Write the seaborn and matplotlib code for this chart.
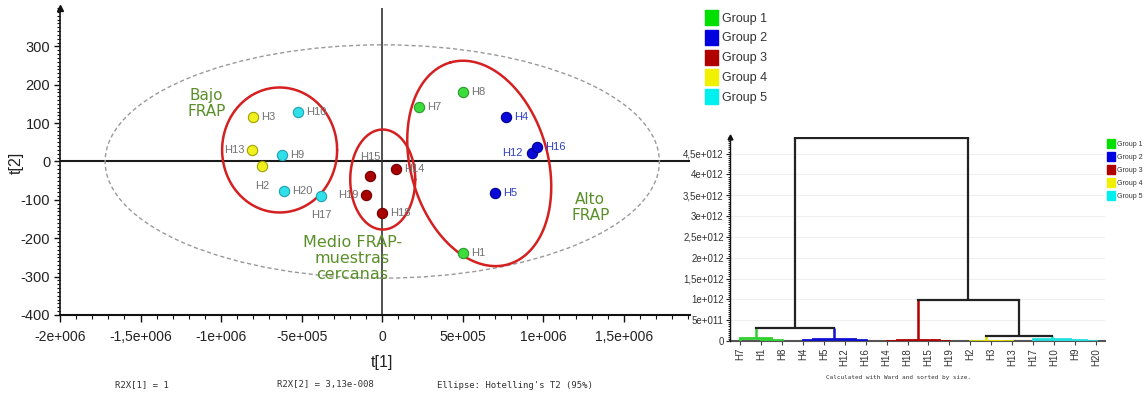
import numpy as np
import pandas as pd
import matplotlib
matplotlib.use("Agg")
import matplotlib.pyplot as plt
import seaborn as sns
from matplotlib.patches import Ellipse, Patch
from matplotlib.ticker import MultipleLocator, FixedLocator

# ---------------- data ----------------
samples = ['H1', 'H2', 'H3', 'H4', 'H5', 'H7', 'H8', 'H9', 'H10', 'H12',
           'H13', 'H14', 'H15', 'H16', 'H17', 'H18', 'H19', 'H20']
t1 = [0.50e6, -0.745e6, -0.80e6, 0.77e6, 0.70e6, 0.23e6, 0.50e6, -0.62e6, -0.52e6, 0.93e6,
      -0.81e6, 0.087e6, -0.075e6, 0.96e6, -0.38e6, 0.0, -0.10e6, -0.61e6]
t2 = [-238, -13, 115, 116, -82, 142, 182, 16, 128, 22,
      29, -19, -39, 38, -89, -134, -88, -76]
group = ['Group 1', 'Group 4', 'Group 4', 'Group 2', 'Group 2', 'Group 1', 'Group 1', 'Group 5', 'Group 5', 'Group 2',
         'Group 4', 'Group 3', 'Group 3', 'Group 2', 'Group 5', 'Group 3', 'Group 3', 'Group 5']
groups = ['Group 1', 'Group 2', 'Group 3', 'Group 4', 'Group 5']

x_ticks = [-2e6, -1.5e6, -1e6, -5e5, 0, 5e5, 1e6, 1.5e6]
x_ticklabels = ['-2e+006', '-1,5e+006', '-1e+006', '-5e+005', '0', '5e+005', '1e+006', '1,5e+006']
y_ticks = [-400, -300, -200, -100, 0, 100, 200, 300]
y_ticklabels = ['-400', '-300', '-200', '-100', '0', '100', '200', '300']

# dendrogram
leaves = ['H7', 'H1', 'H8', 'H4', 'H5', 'H12', 'H16', 'H14', 'H18', 'H15', 'H19',
          'H2', 'H3', 'H13', 'H17', 'H10', 'H9', 'H20']
merge_left = ['H1', 'H7', 'H4', 'H12', 'm2', 'm1', 'H14', 'H15', 'm6', 'H3', 'H2', 'H9', 'H10', 'H17', 'm10', 'm8', 'm5']
merge_right = ['H8', 'm0', 'H5', 'H16', 'm3', 'm4', 'H18', 'H19', 'm7', 'H13', 'm9', 'H20', 'm11', 'm12', 'm13', 'm14', 'm15']
merge_height = [0.2e11, 0.65e11, 0.2e11, 0.15e11, 0.5e11, 3.1e11, 0.08e11, 0.08e11, 0.15e11,
                0.05e11, 0.12e11, 0.05e11, 0.2e11, 0.45e11, 1.2e11, 0.985e12, 4.88e12]
merge_group = ['Group 1', 'Group 1', 'Group 2', 'Group 2', 'Group 2', None, 'Group 3', 'Group 3', 'Group 3',
               'Group 4', 'Group 4', 'Group 5', 'Group 5', 'Group 5', None, None, None]
d_ticks = [0, 5e11, 1e12, 1.5e12, 2e12, 2.5e12, 3e12, 3.5e12, 4e12, 4.5e12]
d_ticklabels = ['0', '5e+011', '1e+012', '1,5e+012', '2e+012', '2,5e+012', '3e+012', '3,5e+012', '4e+012', '4,5e+012']

# ---------------- style ----------------
sns.set_theme(style="white")
plt.rcParams['font.family'] = ['DejaVu Sans']
NARROW = ['Liberation Sans', 'DejaVu Sans']

face = {'Group 1': '#3ddc3d', 'Group 2': '#0a0ad8', 'Group 3': '#a80000', 'Group 4': '#f0f020', 'Group 5': '#30e0e8'}
edge = {'Group 1': '#2a9a2a', 'Group 2': '#000090', 'Group 3': '#700000', 'Group 4': '#a0a000', 'Group 5': '#20a0b0'}
legc = {'Group 1': '#00e000', 'Group 2': '#0000e0', 'Group 3': '#b00000', 'Group 4': '#f0f000', 'Group 5': '#00f0f0'}
linec = {'Group 1': '#30d030', 'Group 2': '#1010d0', 'Group 3': '#b00000', 'Group 4': '#e0e000', 'Group 5': '#20e0e0', None: '#222222'}
GREEN_TXT = '#5a8f29'

W, H = 1144, 396
fig = plt.figure(figsize=(W / 100, H / 100), dpi=100)
fig.patch.set_facecolor('white')

def fx(px):
    return px / W

def fy(py):
    return 1 - py / H

# ---------------- score plot ----------------
ax_l, ax_t, ax_r, ax_b = 60, 8, 690, 315
ax = fig.add_axes([fx(ax_l), fy(ax_b), (ax_r - ax_l) / W, (ax_b - ax_t) / H])
xlim = (-2e6, 1.91e6)
ylim = (-400, 400)
ax.set_xlim(*xlim)
ax.set_ylim(*ylim)
ax.set_facecolor('white')

df = pd.DataFrame({'sample': samples, 't1': t1, 't2': t2, 'group': group})

ax.axhline(0, color='#1a1a1a', lw=1.5, zorder=1)
ax.axvline(0, color='#333333', lw=1.2, zorder=1)

ax.add_patch(Ellipse((0, 0), width=3.44e6, height=608, fill=False, ls=(0, (3, 2)),
                     ec='#9a9a9a', lw=1.0, zorder=1))

sx = (xlim[1] - xlim[0]) / (ax_r - ax_l)
sy = (ylim[1] - ylim[0]) / (ax_b - ax_t)

def red_ellipse(cx, cy, a_px, b_px, ang_deg):
    t = np.linspace(0, 2 * np.pi, 300)
    phi = np.deg2rad(ang_deg)
    dx = a_px * np.cos(phi) * np.cos(t) - b_px * np.sin(phi) * np.sin(t)
    dy = a_px * np.sin(phi) * np.cos(t) + b_px * np.cos(phi) * np.sin(t)
    ax.plot(cx + dx * sx, cy + dy * sy, color='#d42020', lw=1.8, zorder=2)

red_ellipse(-0.637e6, 30, 57.5, 62.5, 0)
red_ellipse(0.003e6, -47, 32.5, 50, 0)
red_ellipse(0.602e6, -5, 105, 68.6, 106)

for g in groups:
    sub = df[df.group == g]
    sns.scatterplot(data=sub, x='t1', y='t2', ax=ax, color=face[g], edgecolor=edge[g],
                    linewidth=0.8, s=55, legend=False, zorder=3)

# label layout: (dx px, dy px, ha)
lab_pos = {'H2': (0, -20, 'center'), 'H17': (0, -19, 'center'), 'H15': (0, 19, 'center'),
           'H13': (-7, 0, 'right'), 'H19': (-8, 0, 'right'), 'H12': (-9, 0, 'right')}
blue_labels = {'H4', 'H5', 'H12', 'H16'}
for s, x, y in zip(samples, t1, t2):
    dx, dy, ha = lab_pos.get(s, (8, 0, 'left'))
    ax.annotate(s, (x, y), xytext=(dx * 0.72, dy * 0.72), textcoords='offset points',
                ha=ha, va='center', fontsize=8, family=NARROW,
                color='#3040c0' if s in blue_labels else '#707070', zorder=4)

ax.text(-1.09e6, 151, 'Bajo\nFRAP', ha='center', va='center', fontsize=11, color=GREEN_TXT, linespacing=1.08)
ax.text(-0.186e6, -253, 'Medio FRAP-\nmuestras\ncercanas', ha='center', va='center', fontsize=11.5,
        color=GREEN_TXT, linespacing=1.1)
ax.text(1.291e6, -120, 'Alto\nFRAP', ha='center', va='center', fontsize=11, color=GREEN_TXT, linespacing=1.08)

for sp in ['top', 'right']:
    ax.spines[sp].set_visible(False)
ax.spines['left'].set_color('#111111')
ax.spines['bottom'].set_color('#111111')
ax.spines['left'].set_linewidth(1.2)
ax.spines['bottom'].set_linewidth(1.5)
ax.plot(0, 1, marker='^', color='#111111', ms=5, transform=ax.transAxes, clip_on=False)

ax.xaxis.set_major_locator(FixedLocator(x_ticks))
ax.set_xticklabels(x_ticklabels)
ax.yaxis.set_major_locator(FixedLocator(y_ticks))
ax.set_yticklabels(y_ticklabels)
ax.xaxis.set_minor_locator(MultipleLocator(1e5))
ax.yaxis.set_minor_locator(MultipleLocator(10))
ax.tick_params(axis='x', which='major', direction='out', length=5, width=1, pad=6,
               bottom=True, colors='#111111', labelsize=10)
ax.tick_params(axis='x', which='minor', direction='out', length=3, width=0.8, bottom=True, colors='#111111')
ax.tick_params(axis='y', which='major', direction='out', length=4, width=1, pad=3,
               left=True, colors='#111111', labelsize=10.5)
ax.tick_params(axis='y', which='minor', direction='out', length=2, width=0.8, left=True, colors='#111111')
for lab in ax.get_xticklabels() + ax.get_yticklabels():
    lab.set_family(NARROW)
    lab.set_color('#222222')
ax.set_xlabel('')
ax.set_ylabel('')

fig.text(fx(382), fy(362), 't[1]', ha='center', va='center', fontsize=11.5, family=NARROW, color='#222222')
fig.text(fx(16), fy(163), 't[2]', ha='center', va='center', fontsize=11.5, family=NARROW,
         rotation=90, color='#222222')

mono = dict(family='DejaVu Sans Mono', fontsize=6.5, color='#333333', va='center', ha='left')
fig.text(fx(115), fy(385), 'R2X[1] = 1', **mono)
fig.text(fx(277), fy(385), 'R2X[2] = 3,13e-008', **mono)
fig.text(fx(437), fy(385), "Ellipse: Hotelling's T2 (95%)", **mono)

# top legend
handles = [Patch(facecolor=legc[g], edgecolor=legc[g], label=g) for g in groups]
leg = fig.legend(handles=handles, loc='upper left', bbox_to_anchor=(fx(705), fy(10)), frameon=False,
                 handlelength=1.04, handleheight=1.5, labelspacing=0.36,
                 handletextpad=0.3, borderpad=0, borderaxespad=0,
                 prop=dict(family=NARROW, size=9))
for t in leg.get_texts():
    t.set_color('#333333')

# ---------------- dendrogram ----------------
d_l, d_t, d_r, d_b = 730, 137, 1105, 341
ax2 = fig.add_axes([fx(d_l), fy(d_b), (d_r - d_l) / W, (d_b - d_t) / H])
ax2.set_xlim(-0.48, len(leaves) - 1 + 0.43)
ax2.set_ylim(0, 4.9e12)
ax2.set_facecolor('white')
for yv in d_ticks[1:]:
    ax2.axhline(yv, color='#efefef', lw=0.8, zorder=0)

leaf_group = dict(zip(samples, group))
nx = {lf: i for i, lf in enumerate(leaves)}
ny = {lf: 0.0 for lf in leaves}
nc = {lf: linec[leaf_group[lf]] for lf in leaves}
for i, (a, b, h, g) in enumerate(zip(merge_left, merge_right, merge_height, merge_group)):
    c = linec[g]
    lwh = 2.0 if g is not None else 1.6
    ax2.plot([nx[a], nx[a]], [ny[a], h], color=nc[a], lw=1.6 if nc[a] == linec[None] else 1.8,
             solid_capstyle='butt', zorder=2)
    ax2.plot([nx[b], nx[b]], [ny[b], h], color=nc[b], lw=1.6 if nc[b] == linec[None] else 1.8,
             solid_capstyle='butt', zorder=2)
    ax2.plot([nx[a], nx[b]], [h, h], color=c, lw=lwh, solid_capstyle='projecting', zorder=2)
    mid = 'm%d' % i
    nx[mid] = (nx[a] + nx[b]) / 2
    ny[mid] = h
    nc[mid] = c

for sp in ['top', 'right']:
    ax2.spines[sp].set_visible(False)
ax2.spines['bottom'].set_color('#555555')
ax2.spines['bottom'].set_linewidth(1.5)
ax2.spines['bottom'].set_zorder(1)
ax2.spines['left'].set_color('#111111')
ax2.spines['left'].set_linewidth(1.0)
ax2.plot(0, 1, marker='^', color='#111111', ms=3.5, transform=ax2.transAxes, clip_on=False)

ax2.xaxis.set_major_locator(FixedLocator(list(range(len(leaves)))))
ax2.set_xticklabels(leaves, rotation=90)
ax2.yaxis.set_major_locator(FixedLocator(d_ticks))
ax2.set_yticklabels(d_ticklabels)
ax2.yaxis.set_minor_locator(MultipleLocator(5e10))
ax2.tick_params(axis='x', which='major', direction='out', length=3, width=0.8, pad=2,
                bottom=True, colors='#444444', labelsize=7)
ax2.tick_params(axis='y', which='major', direction='out', length=3, width=0.8, pad=1.5,
                left=True, colors='#222222', labelsize=7)
ax2.tick_params(axis='y', which='minor', direction='out', length=1.5, width=0.7, left=True, colors='#222222')
for lab in ax2.get_xticklabels() + ax2.get_yticklabels():
    lab.set_family(NARROW)
    lab.set_color('#333333')
ax2.set_xlabel('')
ax2.set_ylabel('')

fig.text(fx(898), fy(377), 'Calculated with Ward and sorted by size.', family='DejaVu Sans Mono',
         fontsize=4.3, color='#333333', ha='center', va='center')

handles2 = [Patch(facecolor=legc[g], edgecolor=legc[g], label=g) for g in groups]
leg2 = fig.legend(handles=handles2, loc='upper left', bbox_to_anchor=(fx(1107), fy(139)), frameon=False,
                  handlelength=1.15, handleheight=1.6, labelspacing=0.58,
                  handletextpad=0.25, borderpad=0, borderaxespad=0,
                  prop=dict(family=NARROW, size=5))
for t in leg2.get_texts():
    t.set_color('#333333')

fig.savefig('out.png', dpi=100, facecolor='white')
